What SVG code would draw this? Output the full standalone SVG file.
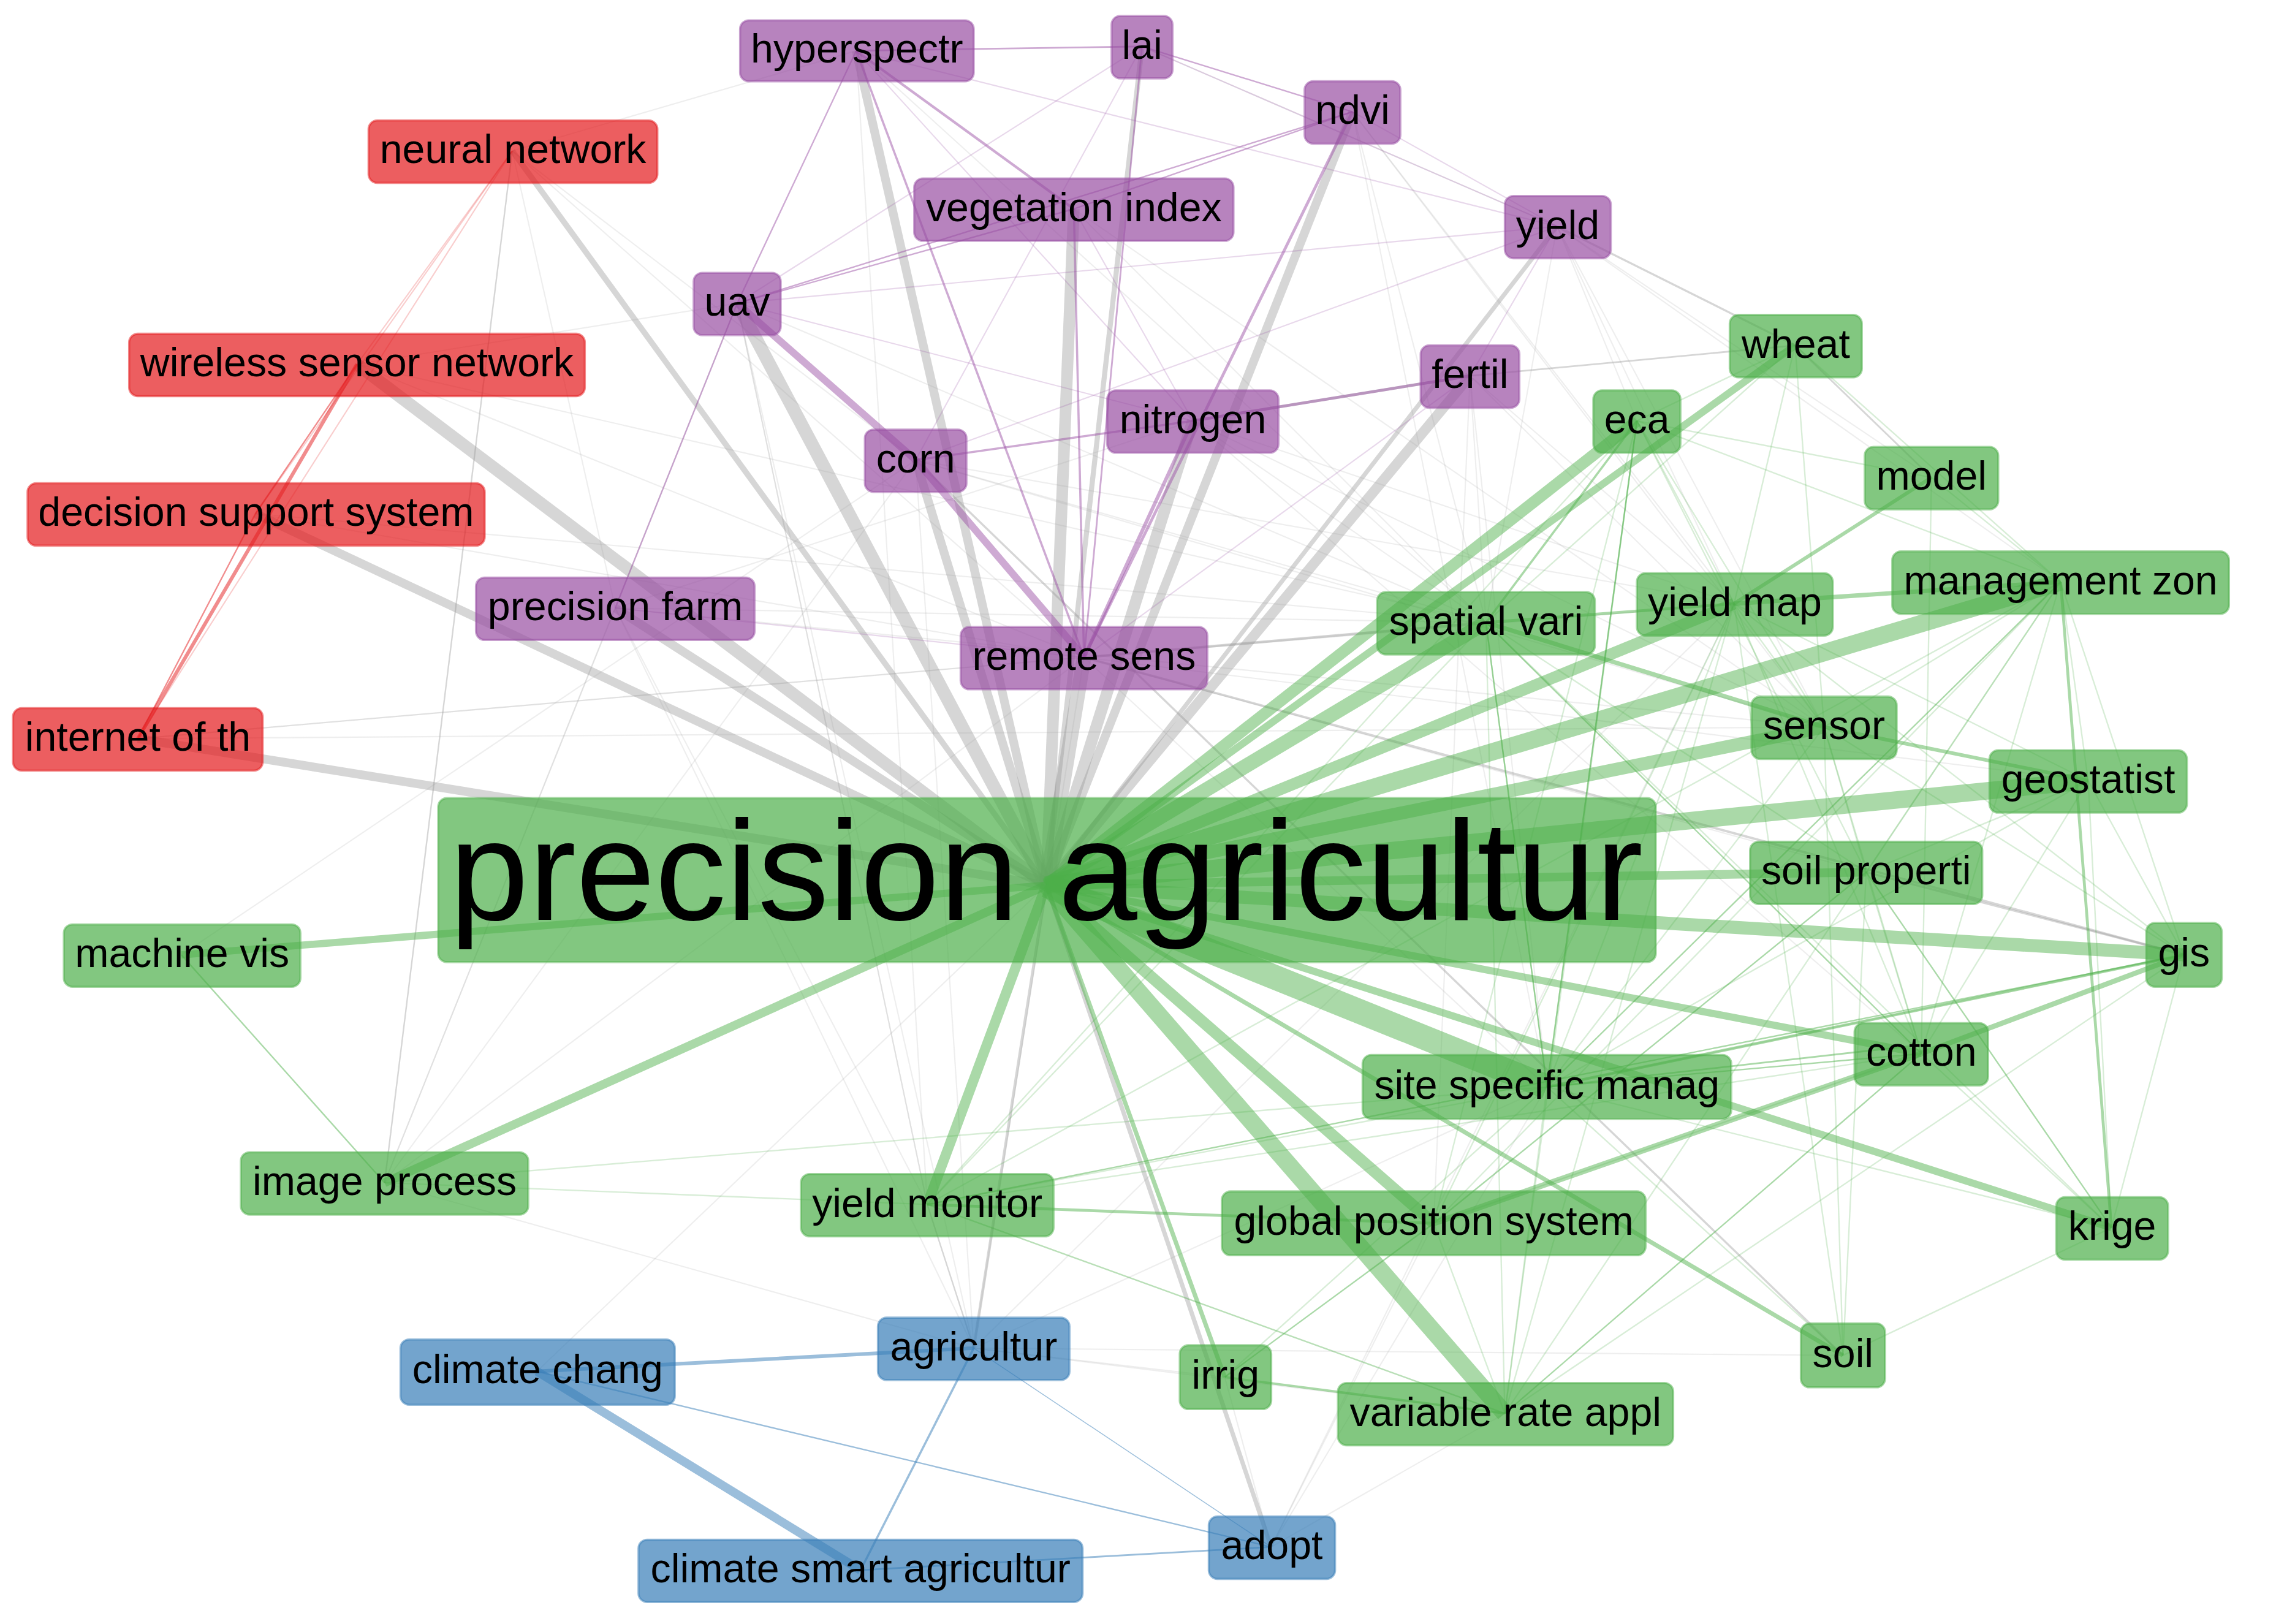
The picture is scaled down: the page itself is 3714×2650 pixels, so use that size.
<svg xmlns="http://www.w3.org/2000/svg" width="3714" height="2650" viewBox="0 0 3714 2650">
<style>
text{font-family:"Liberation Sans",Arial,sans-serif;font-size:28px;text-anchor:middle;fill:#000}
rect{stroke-width:1.5;rx:6px;ry:6px;fill-opacity:.7;stroke-opacity:.5}
.gn{fill:#4daf4a;stroke:#4daf4a}
.pu{fill:#984ea3;stroke:#984ea3}
.re{fill:#e41a1c;stroke:#e41a1c}
.bl{fill:#377eb8;stroke:#377eb8}
path{fill:none}
.g1{stroke:#999;stroke-opacity:.4}.g2{stroke:#999;stroke-opacity:.17}
.v1{stroke:#4daf4a;stroke-opacity:.48}.v2{stroke:#4daf4a;stroke-opacity:.22}
.p1{stroke:#984ea3;stroke-opacity:.48}.p2{stroke:#984ea3;stroke-opacity:.22}
.r1{stroke:#e41a1c;stroke-opacity:.5}.r2{stroke:#e41a1c;stroke-opacity:.22}
.b1{stroke:#377eb8;stroke-opacity:.5}
</style>
<g transform="scale(2.368)">
<g id="connectors">
<g class="g2" stroke-width=".9">
<path d="M353 104L590 35"/><path d="M353 104L631 317"/><path d="M353 104L424 419"/><path d="M353 104L747 453"/><path d="M246 251L508 209"/><path d="M246 251L747 453"/><path d="M246 251L1024 429"/><path d="M176 354L747 453"/><path d="M176 354L1024 429"/><path d="M424 419L1024 429"/><path d="M424 419L1257 501"/><path d="M424 419L822 290"/><path d="M424 419L265 815"/><path d="M424 419L671 929"/><path d="M95 509L747 453"/><path d="M95 509L1257 501"/><path d="M95 509L1024 429"/><path d="M265 815L508 209"/><path d="M265 815L631 317"/><path d="M265 815L747 453"/><path d="M265 815L671 929"/><path d="M125 658L631 317"/><path d="M370 945L721 610"/><path d="M639 830L508 209"/><path d="M639 830L590 35"/><path d="M639 830L424 419"/><path d="M671 929L508 209"/><path d="M671 929L631 317"/><path d="M671 929L747 453"/><path d="M671 929L1195 416"/><path d="M671 929L844 949"/><path d="M671 929L1066 749"/><path d="M671 929L1270 934"/><path d="M671 929L1037 974"/><path d="M876 1066L988 843"/><path d="M876 1066L1037 974"/><path d="M876 1066L844 949"/><path d="M876 1066L1066 749"/><path d="M876 1066L1195 416"/><path d="M590 35L1024 429"/><path d="M787 32L1073 156"/><path d="M740 144L1257 501"/><path d="M740 144L1024 429"/><path d="M932 77L1066 749"/><path d="M932 77L1024 429"/><path d="M932 77L1195 416"/><path d="M932 77L1257 501"/><path d="M1073 156L1024 429"/><path d="M1073 156L1128 290"/><path d="M1073 156L1195 416"/><path d="M1073 156L1257 501"/><path d="M1073 156L1420 401"/><path d="M1073 156L1331 329"/><path d="M1013 259L1024 429"/><path d="M1013 259L1195 416"/><path d="M1013 259L1066 749"/><path d="M1013 259L1257 501"/><path d="M1013 259L988 843"/><path d="M822 290L1195 416"/><path d="M822 290L1024 429"/><path d="M822 290L1257 501"/><path d="M822 290L1324 726"/><path d="M631 317L1024 429"/><path d="M631 317L1257 501"/><path d="M631 317L1195 416"/><path d="M747 453L1286 601"/><path d="M747 453L1195 416"/><path d="M747 453L1439 538"/><path d="M747 453L1066 749"/><path d="M508 209L639 830"/><path d="M508 209L1024 429"/>
</g>
<g class="g1">
<path stroke-width="4" d="M353 104L721 610"/><path stroke-width="8.500" d="M246 251L721 610"/><path stroke-width="6" d="M176 354L721 610"/><path stroke-width="6" d="M95 509L721 610"/><path stroke-width="6" d="M424 419L721 610"/><path stroke-width="9" d="M508 209L721 610"/><path stroke-width="6" d="M590 35L721 610"/><path stroke-width="6" d="M631 317L721 610"/><path stroke-width="8" d="M740 144L721 610"/><path stroke-width="10" d="M747 453L721 610"/><path stroke-width="8" d="M822 290L721 610"/><path stroke-width="6" d="M932 77L721 610"/><path stroke-width="3.500" d="M787 32L721 610"/><path stroke-width="7" d="M1013 259L721 610"/><path stroke-width="3" d="M1073 156L721 610"/><path stroke-width="2" d="M671 929L721 610"/><path stroke-width="3" d="M876 1066L721 610"/>
<path stroke-width="1" d="M353 104L265 815"/><path stroke-width="1.200" d="M1013 259L1237 238"/><path stroke-width="2" d="M1013 259L822 290"/><path stroke-width="1.800" d="M747 453L1024 429"/><path stroke-width="1.600" d="M747 453L1505 658"/><path stroke-width="1.400" d="M631 317L1270 934"/><path stroke-width="1.400" d="M1073 156L1237 238"/><path stroke-width="1.200" d="M1237 238L1331 329"/><path stroke-width="1.500" d="M1286 601L1505 658"/><path stroke-width="1" d="M639 830L671 929"/>
</g>
<g class="v2" stroke-width="1">
<path d="M1037 974L1128 290"/><path d="M1037 974L1066 749"/><path d="M1037 974L988 843"/><path d="M1037 974L1024 429"/><path d="M1037 974L1505 658"/><path d="M1037 974L1195 416"/><path d="M1037 974L1420 401"/><path d="M1037 974L639 830"/><path d="M1066 749L1128 290"/><path d="M1066 749L1024 429"/><path d="M1066 749L1195 416"/><path d="M1066 749L1439 538"/><path d="M1066 749L1257 501"/><path d="M1066 749L1505 658"/><path d="M1066 749L1270 934"/><path d="M1066 749L1455 846"/><path d="M988 843L1128 290"/><path d="M988 843L1195 416"/><path d="M988 843L1420 401"/><path d="M988 843L1324 726"/><path d="M639 830L1066 749"/><path d="M639 830L1324 726"/><path d="M639 830L1420 401"/><path d="M639 830L1024 429"/><path d="M639 830L1128 290"/><path d="M639 830L1037 974"/><path d="M265 815L639 830"/><path d="M265 815L1066 749"/><path d="M1024 429L1237 238"/><path d="M1024 429L1455 846"/><path d="M1024 429L1286 601"/><path d="M1128 290L1195 416"/><path d="M1128 290L1257 501"/><path d="M1128 290L1331 329"/><path d="M1128 290L1420 401"/><path d="M1128 290L1286 601"/><path d="M1237 238L1195 416"/><path d="M1237 238L1128 290"/><path d="M1237 238L1420 401"/><path d="M1237 238L1257 501"/><path d="M1331 329L1420 401"/><path d="M1331 329L1324 726"/><path d="M1420 401L1439 538"/><path d="M1420 401L1505 658"/><path d="M1420 401L1324 726"/><path d="M1420 401L1257 501"/><path d="M1420 401L1286 601"/><path d="M1257 501L1286 601"/><path d="M1257 501L1324 726"/><path d="M1257 501L1505 658"/><path d="M1257 501L1195 416"/><path d="M1439 538L1455 846"/><path d="M1439 538L1505 658"/><path d="M1439 538L1286 601"/><path d="M1439 538L1324 726"/><path d="M1286 601L1324 726"/><path d="M1505 658L1455 846"/><path d="M1324 726L1455 846"/><path d="M1455 846L1270 934"/><path d="M1195 416L1270 934"/><path d="M1286 601L1270 934"/><path d="M1257 501L1270 934"/><path d="M1195 416L1439 538"/><path d="M1195 416L1324 726"/><path d="M1195 416L1505 658"/><path d="M844 949L1066 749"/>
</g>
<g class="v1">
<path stroke-width="10" d="M1024 429L721 610"/><path stroke-width="8" d="M1128 290L721 610"/><path stroke-width="5" d="M1237 238L721 610"/><path stroke-width="8" d="M1195 416L721 610"/><path stroke-width="12" d="M1420 401L721 610"/><path stroke-width="9" d="M1257 501L721 610"/><path stroke-width="12" d="M1439 538L721 610"/><path stroke-width="6" d="M1286 601L721 610"/><path stroke-width="9" d="M1505 658L721 610"/><path stroke-width="5" d="M1324 726L721 610"/><path stroke-width="17" d="M1066 749L721 610"/><path stroke-width="8" d="M988 843L721 610"/><path stroke-width="12" d="M1037 974L721 610"/><path stroke-width="5" d="M1455 846L721 610"/><path stroke-width="7" d="M639 830L721 610"/><path stroke-width="6" d="M265 815L721 610"/><path stroke-width="5" d="M125 658L721 610"/><path stroke-width="3" d="M844 949L721 610"/><path stroke-width="3" d="M1270 934L721 610"/>
<path stroke-width="4" d="M1324 726L988 843"/><path stroke-width="3.500" d="M1505 658L1324 726"/><path stroke-width="2" d="M1505 658L1066 749"/><path stroke-width="3" d="M1024 429L1257 501"/><path stroke-width="2.500" d="M1257 501L1439 538"/><path stroke-width="3" d="M1195 416L1420 401"/><path stroke-width="2" d="M1024 429L1195 416"/><path stroke-width="2.500" d="M1195 416L1331 329"/><path stroke-width="2" d="M639 830L988 843"/><path stroke-width="1.600" d="M844 949L1037 974"/><path stroke-width="1" d="M125 658L265 815"/><path stroke-width="2" d="M1420 401L1455 846"/><path stroke-width="1.500" d="M1024 429L1128 290"/><path stroke-width="1" d="M1024 429L1066 749"/><path stroke-width="1" d="M1128 290L1066 749"/><path stroke-width="1" d="M1420 401L1066 749"/><path stroke-width="1" d="M1066 749L1324 726"/><path stroke-width="1.200" d="M1066 749L1324 720"/><path stroke-width="1" d="M988 843L844 949"/><path stroke-width="1" d="M1324 726L1037 974"/><path stroke-width="1" d="M1286 601L988 843"/><path stroke-width="1" d="M1455 846L1286 601"/><path stroke-width="1" d="M1024 429L1324 726"/><path stroke-width="1" d="M639 830L1505 658"/>
</g>
<g class="p2" stroke-width=".9">
<path d="M508 209L787 32"/><path d="M508 209L1073 156"/><path d="M508 209L822 290"/><path d="M787 32L1073 156"/><path d="M590 35L1073 156"/><path d="M932 77L1073 156"/><path d="M631 317L1073 156"/><path d="M1013 259L747 453"/><path d="M1073 156L1013 259"/><path d="M590 35L822 290"/><path d="M822 290L740 144"/><path d="M424 419L747 453"/><path d="M787 32L631 317"/>
</g>
<g class="p1">
<path stroke-width="5" d="M508 209L631 317"/><path stroke-width="5" d="M631 317L747 453"/><path stroke-width="1.800" d="M590 35L740 144"/><path stroke-width="1.200" d="M590 35L787 32"/><path stroke-width="1" d="M590 35L508 209"/><path stroke-width="1.500" d="M590 35L747 453"/><path stroke-width="1" d="M508 209L932 77"/><path stroke-width="1" d="M508 209L740 144"/><path stroke-width="1" d="M508 209L424 419"/><path stroke-width="1" d="M787 32L932 77"/><path stroke-width="1" d="M740 144L932 77"/><path stroke-width="2" d="M932 77L747 453"/><path stroke-width="1.500" d="M740 144L747 453"/><path stroke-width="1.200" d="M787 32L747 453"/><path stroke-width="2.500" d="M822 290L747 453"/><path stroke-width="1.500" d="M631 317L822 290"/><path stroke-width="2" d="M822 290L1013 259"/>
</g>
<g class="r2" stroke-width=".9">
<path d="M353 104L95 509"/><path d="M353 104L246 251"/><path d="M353 104L176 354"/>
</g>
<g class="r1">
<path stroke-width="2.500" d="M95 509L246 251"/><path stroke-width="1" d="M95 509L176 354"/><path stroke-width="1" d="M176 354L246 251"/>
</g>
<g class="b1">
<path stroke-width="2.500" d="M370 945L671 929"/><path stroke-width="6" d="M370 945L593 1082"/><path stroke-width="1.500" d="M671 929L593 1082"/><path stroke-width="1" d="M370 945L876 1066"/><path stroke-width="1.200" d="M593 1082L876 1066"/><path stroke-width=".6" d="M671 929L876 1066"/>
</g>
</g>
<g id="node-precision-agricultur"><rect class="gn" x="302" y="550" width="839" height="113"/><text x="721" y="634" style="font-size:98px">precision agricultur</text></g>
<g id="node-neural-network"><rect class="re" x="254" y="83" width="199" height="43"/><text x="353.500" y="112.500">neural network</text></g>
<g id="node-hyperspectr"><rect class="pu" x="510" y="14" width="161" height="42"/><text x="590.500" y="43">hyperspectr</text></g>
<g id="node-lai"><rect class="pu" x="766" y="11" width="42" height="43"/><text x="787" y="40.500">lai</text></g>
<g id="node-ndvi"><rect class="pu" x="899" y="56" width="66" height="43"/><text x="932" y="85.500">ndvi</text></g>
<g id="node-yield"><rect class="pu" x="1037" y="135" width="73" height="43"/><text x="1073.500" y="164.500">yield</text></g>
<g id="node-vegetation-index"><rect class="pu" x="630" y="123" width="220" height="43"/><text x="740" y="152.500">vegetation index</text></g>
<g id="node-uav"><rect class="pu" x="478" y="188" width="60" height="43"/><text x="508" y="217.500">uav</text></g>
<g id="node-wireless-sensor-network"><rect class="re" x="89" y="230" width="314" height="43"/><text x="246" y="259.500">wireless sensor network</text></g>
<g id="node-decision-support-system"><rect class="re" x="19" y="333" width="315" height="43"/><text x="176.500" y="362.500">decision support system</text></g>
<g id="node-corn"><rect class="pu" x="596" y="296" width="70" height="43"/><text x="631" y="325.500">corn</text></g>
<g id="node-nitrogen"><rect class="pu" x="763" y="269" width="118" height="43"/><text x="822" y="298.500">nitrogen</text></g>
<g id="node-fertil"><rect class="pu" x="979" y="238" width="68" height="43"/><text x="1013" y="267.500">fertil</text></g>
<g id="node-wheat"><rect class="gn" x="1192" y="217" width="91" height="43"/><text x="1237.500" y="246.500">wheat</text></g>
<g id="node-eca"><rect class="gn" x="1098" y="269" width="60" height="43"/><text x="1128" y="298.500">eca</text></g>
<g id="node-model"><rect class="gn" x="1285" y="308" width="92" height="43"/><text x="1331" y="337.500">model</text></g>
<g id="node-management-zon"><rect class="gn" x="1304" y="380" width="232" height="43"/><text x="1420" y="409.500">management zon</text></g>
<g id="node-yield-map"><rect class="gn" x="1128" y="395" width="135" height="43"/><text x="1195.500" y="424.500">yield map</text></g>
<g id="node-spatial-vari"><rect class="gn" x="949" y="408" width="150" height="43"/><text x="1024" y="437.500">spatial vari</text></g>
<g id="node-precision-farm"><rect class="pu" x="328" y="398" width="192" height="43"/><text x="424" y="427.500">precision farm</text></g>
<g id="node-remote-sens"><rect class="pu" x="662" y="432" width="170" height="43"/><text x="747" y="461.500">remote sens</text></g>
<g id="node-sensor"><rect class="gn" x="1207" y="480" width="100" height="43"/><text x="1257" y="509.500">sensor</text></g>
<g id="node-geostatist"><rect class="gn" x="1371" y="517" width="136" height="43"/><text x="1439" y="546.500">geostatist</text></g>
<g id="node-internet-of-th"><rect class="re" x="9" y="488" width="172" height="43"/><text x="95" y="517.500">internet of th</text></g>
<g id="node-soil-properti"><rect class="gn" x="1206" y="580" width="160" height="43"/><text x="1286" y="609.500">soil properti</text></g>
<g id="node-machine-vis"><rect class="gn" x="44" y="637" width="163" height="43"/><text x="125.500" y="666.500">machine vis</text></g>
<g id="node-gis"><rect class="gn" x="1479" y="636" width="52" height="44"/><text x="1505" y="666">gis</text></g>
<g id="node-cotton"><rect class="gn" x="1278" y="705" width="92" height="43"/><text x="1324" y="734.500">cotton</text></g>
<g id="node-site-specific-manag"><rect class="gn" x="939" y="727" width="254" height="44"/><text x="1066" y="757">site specific manag</text></g>
<g id="node-image-process"><rect class="gn" x="166" y="794" width="198" height="43"/><text x="265" y="823.500">image process</text></g>
<g id="node-yield-monitor"><rect class="gn" x="552" y="809" width="174" height="43"/><text x="639" y="838.500">yield monitor</text></g>
<g id="node-global-position-system"><rect class="gn" x="842" y="821" width="292" height="44"/><text x="988" y="851">global position system</text></g>
<g id="node-krige"><rect class="gn" x="1417" y="825" width="77" height="43"/><text x="1455.500" y="854.500">krige</text></g>
<g id="node-agricultur"><rect class="bl" x="605" y="908" width="132" height="43"/><text x="671" y="937.500">agricultur</text></g>
<g id="node-climate-chang"><rect class="bl" x="276" y="923" width="189" height="45"/><text x="370.500" y="953">climate chang</text></g>
<g id="node-irrig"><rect class="gn" x="813" y="927" width="63" height="44"/><text x="844.500" y="957">irrig</text></g>
<g id="node-variable-rate-appl"><rect class="gn" x="922" y="953" width="231" height="43"/><text x="1037.500" y="982.500">variable rate appl</text></g>
<g id="node-soil"><rect class="gn" x="1241" y="912" width="58" height="44"/><text x="1270" y="942">soil</text></g>
<g id="node-adopt"><rect class="bl" x="833" y="1045" width="87" height="43"/><text x="876.500" y="1074.500">adopt</text></g>
<g id="node-climate-smart-agricultur"><rect class="bl" x="440" y="1061" width="306" height="43"/><text x="593" y="1090.500">climate smart agricultur</text></g>
</g>
</svg>
